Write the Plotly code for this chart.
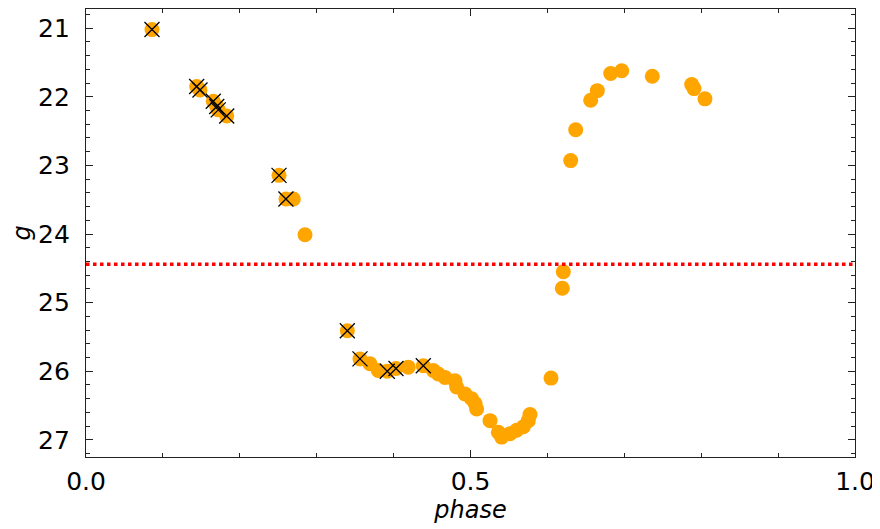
import plotly.graph_objects as go

# All observations (phase, g magnitude)
phase_all = [0.0858, 0.1439, 0.1482, 0.1655, 0.1700, 0.1720, 0.1830,
             0.2510, 0.2600, 0.2696, 0.2848,
             0.3398, 0.3563, 0.3693, 0.3800, 0.3918, 0.4031, 0.4190, 0.4386, 0.4516,
             0.4582, 0.4668, 0.4798, 0.4820, 0.4928, 0.5015, 0.5059, 0.5080,
             0.5254, 0.5362, 0.5405, 0.5514, 0.5600, 0.5687, 0.5752, 0.5774,
             0.6047, 0.6194, 0.6207, 0.6303, 0.6368, 0.6563, 0.6649, 0.6823, 0.6966,
             0.7364, 0.7876, 0.7906, 0.8049]
g_all = [21.02, 21.85, 21.90, 22.065, 22.14, 22.19, 22.28,
         23.145, 23.49, 23.49, 24.01,
         25.41, 25.82, 25.89, 25.99, 26.00, 25.96, 25.94, 25.92, 25.99,
         26.04, 26.09, 26.14, 26.23, 26.33, 26.40, 26.47, 26.55,
         26.72, 26.89, 26.96, 26.91, 26.86, 26.81, 26.72, 26.63,
         26.10, 24.79, 24.55, 22.93, 22.48, 22.05, 21.91, 21.66, 21.62,
         21.70, 21.82, 21.88, 22.03]

# Flagged observations (marked with x)
phase_flag = [0.0858, 0.1439, 0.1482, 0.1655, 0.1700, 0.1720, 0.1830,
              0.2510, 0.2600, 0.3398, 0.3563, 0.3918, 0.4031, 0.4386]
g_flag = [21.02, 21.85, 21.90, 22.065, 22.14, 22.19, 22.28,
          23.145, 23.49, 25.41, 25.82, 26.00, 25.96, 25.92]

mean_g = 24.44
x_range = [0.0, 1.0]
y_range = [27.25, 20.72]

fig = go.Figure()
fig.add_trace(go.Scatter(x=phase_all, y=g_all, mode="markers",
                         marker=dict(color="#FFA500", size=15, line=dict(width=0)),
                         showlegend=False))
fig.add_trace(go.Scatter(x=phase_flag, y=g_flag, mode="markers",
                         marker=dict(symbol="x-thin-open", color="black", size=15,
                                     line=dict(width=1.3, color="black")),
                         showlegend=False))
fig.add_trace(go.Scatter(x=x_range, y=[mean_g, mean_g], mode="lines",
                         line=dict(color="red", width=3.5, dash="dot"),
                         showlegend=False))

axis_common = dict(
    showgrid=False, zeroline=False, showline=True, linecolor="#222222", linewidth=1.3,
    mirror="allticks", ticks="inside", ticklen=7, tickwidth=1.3, tickcolor="#222222",
    tickfont=dict(family="DejaVu Sans", size=25, color="black"),
    automargin=False,
)

fig.update_xaxes(range=x_range, tickvals=[0, 0.5, 1.0], ticktext=["0.0", "0.5", "1.0"],
                 minor=dict(ticks="inside", ticklen=4, tickwidth=1.1, tickcolor="#222222",
                            dtick=0.1, tick0=0, showgrid=False),
                 title=dict(text="<i>phase</i>", font=dict(family="DejaVu Sans", size=24, color="black"),
                            standoff=4),
                 ticklabelstandoff=2,
                 **axis_common)
fig.update_yaxes(range=y_range, tickvals=[21, 22, 23, 24, 25, 26, 27],
                 minor=dict(ticks="inside", ticklen=4, tickwidth=1.1, tickcolor="#222222",
                            dtick=0.2, tick0=21, showgrid=False),
                 title=dict(text="<i>g</i>", font=dict(family="DejaVu Sans", size=24, color="black"),
                            standoff=6),
                 ticklabelstandoff=10,
                 **axis_common)

fig.update_layout(width=872, height=521, plot_bgcolor="white", paper_bgcolor="white",
                  margin=dict(l=78, r=25, t=1, b=72), showlegend=False)

fig.write_html("out.html")
